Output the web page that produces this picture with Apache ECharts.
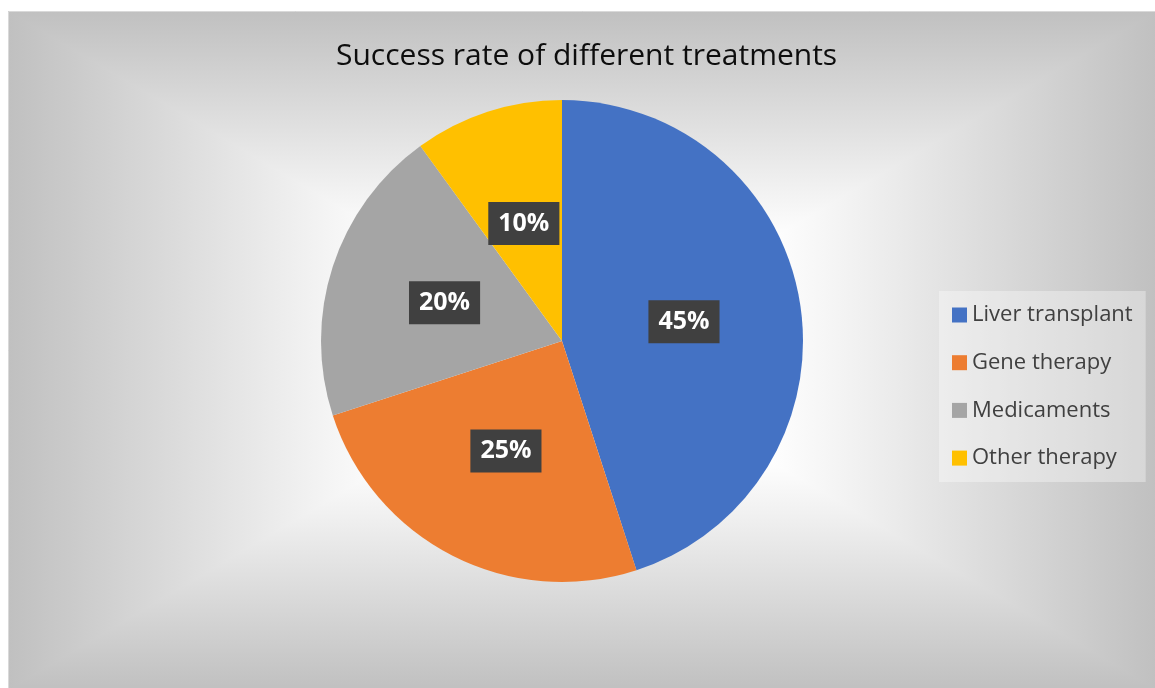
<!DOCTYPE html>
<html>
<head>
<meta charset="utf-8">
<script src="https://cdn.jsdelivr.net/npm/echarts@6/dist/echarts.min.js"></script>
<style>
html,body{margin:0;padding:0;background:#fff;}
#chart{width:1155px;height:688px;}
</style>
</head>
<body>
<div id="chart"></div>
<script>
const titleText = 'Success rate of different treatments';
const categories = ['Liver transplant', 'Gene therapy', 'Medicaments', 'Other therapy'];
const values = [45, 25, 20, 10];
const colors = ['#4472C4', '#ED7D31', '#A5A5A5', '#FFC000'];

const chart = echarts.init(document.getElementById('chart'));

// chart area frame
const X0 = 8, Y0 = 11, X1 = 1157, Y1 = 690;
const CX = (X0 + X1) / 2, CY = (Y0 + Y1) / 2;
const stops = [
  {offset: 0, color: '#c0c0c0'},
  {offset: 0.5, color: '#efefef'},
  {offset: 0.68, color: '#ffffff'},
  {offset: 1, color: '#ffffff'}
];
function LG(x, y, x2, y2, st) { return new echarts.graphic.LinearGradient(x, y, x2, y2, st, true); }

const bg = [
  {type: 'polygon', shape: {points: [[X0, Y0], [X1, Y0], [X1, Y0 + 12], [CX, CY + 6], [X0, Y0 + 12]]}, style: {fill: LG(0, Y0, 0, CY, stops)}, z: -99, silent: true},
  {type: 'polygon', shape: {points: [[X0, Y1], [X1, Y1], [X1, Y1 - 12], [CX, CY - 6], [X0, Y1 - 12]]}, style: {fill: LG(0, Y1, 0, CY, stops)}, z: -99, silent: true},
  {type: 'polygon', shape: {points: [[X0, Y0], [X0, Y1], [CX, CY]]}, style: {fill: LG(X0, 0, CX, 0, stops)}, z: -98, silent: true},
  {type: 'polygon', shape: {points: [[X1, Y0], [X1, Y1], [CX, CY]]}, style: {fill: LG(X1, 0, CX, 0, stops)}, z: -98, silent: true},
  {type: 'rect', shape: {x: X0 + 0.5, y: Y0 + 0.5, width: X1 - X0, height: Y1 - Y0}, style: {fill: null, stroke: '#d9d9d9', lineWidth: 1}, z: -97, silent: true}
];

const FONT = "'Segoe UI', 'Open Sans', 'Noto Sans', sans-serif";

chart.setOption({
  animation: false,
  color: colors,
  graphic: bg,
  title: {
    text: titleText,
    left: 336,
    top: 41,
    padding: 0,
    textStyle: {fontFamily: FONT, fontSize: 30, fontWeight: 'normal', color: '#0d0d0d'}
  },
  legend: {
    orient: 'vertical',
    left: 939,
    top: 291,
    padding: [11, 13, 11, 13],
    itemWidth: 15,
    itemHeight: 15,
    itemGap: 21.7,
    icon: 'rect',
    backgroundColor: 'rgba(255,255,255,0.35)',
    textStyle: {fontFamily: FONT, fontSize: 22, lineHeight: 26, color: '#404040'},
    data: categories
  },
  series: [{
    type: 'pie',
    center: [562, 341],
    radius: 241,
    startAngle: 90,
    clockwise: true,
    silent: true,
    data: categories.map((c, i) => ({name: c, value: values[i]})),
    itemStyle: {borderWidth: 0},
    label: {
      show: true,
      position: 'inside',
      formatter: '{c}%',
      color: '#ffffff',
      fontFamily: FONT,
      fontSize: 25,
      fontWeight: 'bold',
      backgroundColor: '#404040',
      padding: [9, 10, 9, 10]
    },
    labelLine: {show: false}
  }]
});
</script>
</body>
</html>
